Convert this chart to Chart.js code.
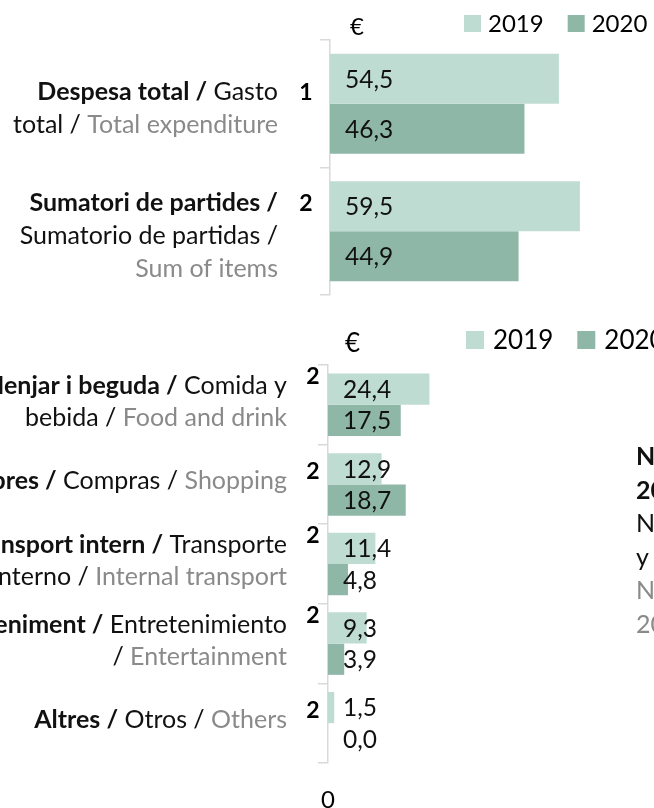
<!DOCTYPE html>
<html>
<head>
<meta charset="utf-8">
<script src="https://cdn.jsdelivr.net/npm/chart.js@4.4.1/dist/chart.umd.min.js"></script>
<style>
  html, body { margin: 0; padding: 0; background: #fff; overflow: hidden; }
  body { width: 654px; height: 808px; position: relative; }
  .box { position: absolute; left: 0; width: 654px; }
  #totalBox { top: 0; height: 310px; }
  #itemsBox { top: 310px; height: 498px; }
</style>
</head>
<body>
<div class="box" id="totalBox"><canvas id="totalChart"></canvas></div>
<div class="box" id="itemsBox"><canvas id="itemsChart"></canvas></div>
<script>
// Series
const years = ['2019', '2020'];
const yearColors = ['#bfdcd2', '#8fb7a7'];

// Total spend per day
const totalCa = ['Despesa total', 'Sumatori de partides'];
const totalEs = ['Gasto total', 'Sumatorio de partidas'];
const totalEn = ['Total expenditure', 'Sum of items'];
const totalRefs = ['1', '2'];
const total2019 = [54.5, 59.5];
const total2020 = [46.3, 44.9];

// Spend by item
const itemsCa = ['Menjar i beguda', 'Compres', 'Transport intern', 'Entreteniment', 'Altres'];
const itemsEs = ['Comida y bebida', 'Compras', 'Transporte interno', 'Entretenimiento', 'Otros'];
const itemsEn = ['Food and drink', 'Shopping', 'Internal transport', 'Entertainment', 'Others'];
const itemsRefs = ['2', '2', '2', '2', '2'];
const items2019 = [24.4, 12.9, 11.4, 9.3, 1.5];
const items2020 = [17.5, 18.7, 4.8, 3.9, 0.0];

// Side note (one entry per language)
const noteCa = ['Nota: dades de', '2019 i 2020'];
const noteEs = ['Nota: datos de 2019', 'y 2020'];
const noteEn = ['Note: data for', '2019 and 2020'];

const FONT = 'Lato, "Open Sans", sans-serif';
const BLACK = '#111';
const GREY = '#8a8a8a';
const AXIS = '#d9d9d9';

const fmt = v => v.toFixed(1).replace('.', ',');

function tokens(text, weight, color) {
  return text.split(' ').filter(w => w).map(w => ({ w, weight, color }));
}

function fontOf(weight, size) {
  return weight + ' ' + size + 'px ' + FONT;
}

// greedy word wrap over styled words
function wrap(ctx, words, size, maxWidth) {
  const lines = [];
  let line = [], width = 0;
  words.forEach(t => {
    ctx.font = fontOf(t.weight, size);
    const tw = ctx.measureText(t.w).width;
    const sp = line.length ? ctx.measureText(' ').width : 0;
    if (line.length && width + sp + tw > maxWidth) {
      lines.push({ line, width });
      line = [Object.assign({ tw, sp: 0 }, t)];
      width = tw;
    } else {
      line.push(Object.assign({ tw, sp }, t));
      width += sp + tw;
    }
  });
  if (line.length) lines.push({ line, width });
  return lines;
}

function barChart(id, o) {
  const drawText = {
    id: 'drawText',
    afterDraw(chart) {
      const ctx = chart.ctx;
      const xs = chart.scales.x, ys = chart.scales.y;
      const x0 = xs.getPixelForValue(0);
      ctx.save();

      // value labels, all starting next to the axis
      ctx.font = fontOf('normal', o.valueSize);
      ctx.fillStyle = BLACK;
      ctx.textAlign = 'left';
      ctx.textBaseline = 'middle';
      chart.data.datasets.forEach((ds, di) => {
        chart.getDatasetMeta(di).data.forEach((bar, i) => {
          ctx.fillText(fmt(ds.data[i]), x0 + 15, bar.y + 1);
        });
      });

      // three-language category labels
      ctx.textBaseline = 'alphabetic';
      o.ca.forEach((ca, i) => {
        const words = tokens(ca + ' /', 'bold', BLACK)
          .concat(tokens(o.es[i] + ' /', 'normal', BLACK))
          .concat(tokens(o.en[i], 'normal', GREY));
        const lines = wrap(ctx, words, o.labelSize, o.wrapWidth);
        const cy = ys.getPixelForTick(i);
        const first = cy - (lines.length - 1) * o.lineHeight / 2 + o.capShift;
        lines.forEach((ln, li) => {
          let x = o.labelRight - ln.width;
          const y = first + li * o.lineHeight;
          ln.line.forEach(t => {
            x += t.sp;
            ctx.font = fontOf(t.weight, o.labelSize);
            ctx.fillStyle = t.color;
            ctx.textAlign = 'left';
            ctx.fillText(t.w, x, y);
            x += t.tw;
          });
        });
        ctx.font = fontOf('bold', o.labelSize - 2);
        ctx.fillStyle = '#000';
        ctx.textAlign = 'center';
        ctx.fillText(o.refs[i], x0 - o.refDx, first - o.refRaise);
      });

      // unit and legend
      ctx.font = fontOf('normal', o.legendSize);
      ctx.fillStyle = '#000';
      ctx.textAlign = 'left';
      ctx.fillText('€', o.euroX, o.euroY);
      let lx = o.legendX;
      chart.data.datasets.forEach(ds => {
        ctx.fillStyle = ds.backgroundColor;
        ctx.fillRect(lx, o.legendY, o.box, o.box);
        lx += o.box + o.legendGap;
        ctx.fillStyle = '#000';
        ctx.textBaseline = 'middle';
        ctx.fillText(ds.label, lx, o.legendY + o.box / 2 + 1);
        lx += ctx.measureText(ds.label).width + 24;
      });

      // side note
      if (o.note) {
        ctx.textBaseline = 'alphabetic';
        const styles = [['bold', BLACK], ['normal', BLACK], ['normal', GREY]];
        let ny = o.noteY;
        o.note.forEach((lines, k) => {
          lines.forEach(txt => {
            ctx.font = fontOf(styles[k][0], o.labelSize);
            ctx.fillStyle = styles[k][1];
            ctx.fillText(txt, o.noteX, ny);
            ny += o.noteStep;
          });
        });
      }
      ctx.restore();
    }
  };

  return new Chart(document.getElementById(id), {
    type: 'bar',
    data: {
      labels: o.ca,
      datasets: [
        { label: years[0], data: o.v2019, backgroundColor: yearColors[0] },
        { label: years[1], data: o.v2020, backgroundColor: yearColors[1] }
      ]
    },
    options: {
      indexAxis: 'y',
      responsive: true,
      maintainAspectRatio: false,
      animation: false,
      layout: { padding: { top: o.padTop, bottom: o.padBottom, left: 0, right: o.padRight } },
      datasets: { bar: { categoryPercentage: 0.785, barPercentage: 1, borderWidth: 0 } },
      scales: {
        x: {
          display: o.showZero,
          min: 0,
          max: o.max,
          grid: { display: false, drawTicks: false },
          border: { display: false },
          ticks: {
            stepSize: 10,
            padding: 23,
            color: '#000',
            font: { family: FONT, size: 24 },
            callback: v => (v === 0 ? '0' : '')
          },
          afterFit: s => { s.height = o.xHeight; }
        },
        y: {
          grid: { offset: true, drawOnChartArea: false, drawTicks: true, tickLength: 10, color: AXIS, lineWidth: 1.5 },
          border: { color: AXIS, width: 1.5 },
          ticks: { callback: () => '' },
          afterFit: s => { s.width = o.axisX; }
        }
      },
      plugins: { legend: { display: false }, tooltip: { enabled: false } }
    },
    plugins: [drawText]
  });
}

barChart('totalChart', {
  ca: totalCa, es: totalEs, en: totalEn, refs: totalRefs,
  v2019: total2019, v2020: total2020,
  max: 70, axisX: 330, padTop: 40, padBottom: 15, padRight: 30,
  showZero: false, xHeight: 0,
  valueSize: 24.5, labelSize: 25, lineHeight: 33, capShift: 13, wrapWidth: 272, labelRight: 278,
  refDx: 24, refRaise: 0,
  euroX: 350, euroY: 35, legendX: 464, legendY: 15, box: 17, legendGap: 7, legendSize: 24
});

barChart('itemsChart', {
  ca: itemsCa, es: itemsEs, en: itemsEn, refs: itemsRefs,
  v2019: items2019, v2020: items2020,
  max: 70, axisX: 328, padTop: 55, padBottom: 0, padRight: 35,
  showZero: true, xHeight: 45,
  valueSize: 24.5, labelSize: 25, lineHeight: 32, capShift: 5, wrapWidth: 364, labelRight: 287,
  refDx: 15, refRaise: 10,
  euroX: 345, euroY: 42, legendX: 466, legendY: 21, box: 18, legendGap: 9, legendSize: 26,
  note: [noteCa, noteEs, noteEn], noteX: 636, noteY: 155, noteStep: 33.5
});
</script>
</body>
</html>
